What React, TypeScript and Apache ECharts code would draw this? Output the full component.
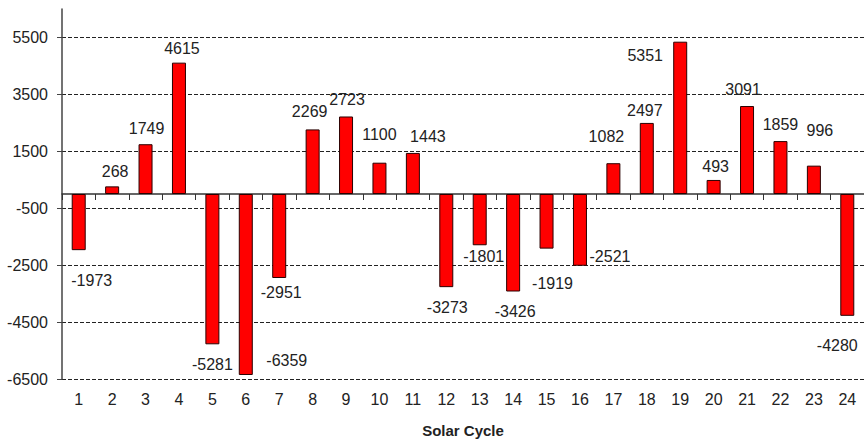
import React, { useEffect, useRef } from "react";
import * as echarts from "echarts";

const cycles = ["1","2","3","4","5","6","7","8","9","10","11","12","13","14","15","16","17","18","19","20","21","22","23","24"];
const values = [-1973, 268, 1749, 4615, -5281, -6359, -2951, 2269, 2723, 1100, 1443, -3273, -1801, -3426, -1919, -2521, 1082, 2497, 5351, 493, 3091, 1859, 996, -4280];
// manual label nudges (px) as in the original, hand-placed labels
const labelNudges: [number, number][] = [
  [13, 17], [3, -2], [1, -3], [3, -1], [0, 7], [41, -27], [2, 2], [-3, -5],
  [1, -4], [0, -15], [15, -3], [1, 7], [4, -2], [2, 7], [6, 22], [30, -22],
  [-7, -14], [-2, 1], [-35, 27], [2, 0], [-4, -4], [0, -4], [6, -22], [-10, 17],
];
const yMin = -6500;
const yMax = 6500;
const yStep = 2000;

export default function App() {
  const ref = useRef<HTMLDivElement>(null);
  useEffect(() => {
    if (!ref.current) return;
    const chart = echarts.init(ref.current, null, { renderer: "svg" });
    const font = "'Liberation Sans', Arial, sans-serif";
    chart.setOption({
      animation: false,
      backgroundColor: "#ffffff",
      grid: { left: 62, right: 0, top: 9, bottom: 61, containLabel: false },
      xAxis: [
        {
          type: "category",
          data: cycles,
          axisLine: { show: true, onZero: true, lineStyle: { color: "#333", width: 1.5 } },
          axisTick: { show: true, length: 6, lineStyle: { color: "#333" } },
          axisLabel: { show: false },
          splitLine: { show: false },
        },
        {
          type: "category",
          data: cycles,
          position: "bottom",
          axisLine: { show: false, onZero: false },
          axisTick: { show: false },
          axisLabel: { show: true, margin: 12, fontSize: 16, color: "#222", fontFamily: font },
          name: "Solar Cycle",
          nameLocation: "middle",
          nameGap: 44,
          nameTextStyle: { fontSize: 15, fontWeight: "bold", color: "#222", fontFamily: font },
        },
      ],
      yAxis: {
        type: "value",
        min: yMin,
        max: yMax,
        interval: yStep,
        axisLine: { show: true, lineStyle: { color: "#444", width: 1.5 } },
        axisTick: { show: true, length: 5, lineStyle: { color: "#444" } },
        axisLabel: {
          margin: 14,
          fontSize: 16,
          color: "#222",
          fontFamily: font,
          showMaxLabel: false,
          formatter: (v: number) => (v === yMax ? "" : String(v)),
        },
        splitLine: {
          show: true,
          showMaxLine: false,
          lineStyle: { color: "#222", type: [4, 2], width: 1 },
        },
      },
      series: [
        {
          type: "bar",
          xAxisIndex: 0,
          barWidth: 14,
          data: values.map((v, i) => ({
            value: v,
            label: {
              show: true,
              position: v >= 0 ? "top" : "bottom",
              offset: labelNudges[i],
            },
          })),
          itemStyle: { color: "#ff0000", borderColor: "#2a0000", borderWidth: 1 },
          label: { fontSize: 16, color: "#222", fontFamily: font, distance: 5 },
        },
      ],
    });
    return () => chart.dispose();
  }, []);
  return <div ref={ref} style={{ width: 864, height: 443, position: "absolute", left: 0, top: 0 }} />;
}
